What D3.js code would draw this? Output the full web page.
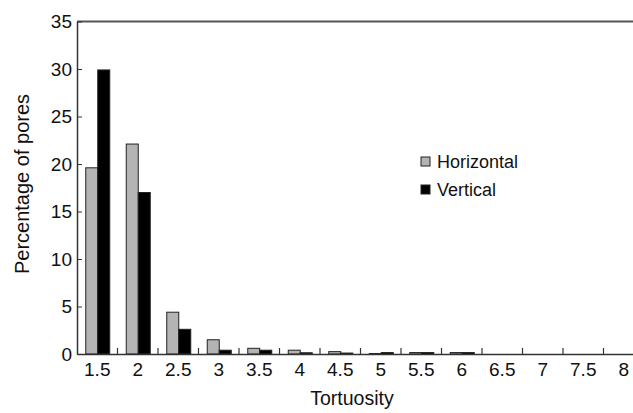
<!DOCTYPE html>
<html>
<head>
<meta charset="utf-8">
<script src="https://cdn.jsdelivr.net/npm/d3@7"></script>
<style>
  body { margin: 0; background: #fff; }
  svg { display: block; font-family: "Liberation Sans", Arial, sans-serif; }
</style>
</head>
<body>
<div id="chart"></div>
<script>
// tortuosity classes and percentages
var categories = ["1.5", "2", "2.5", "3", "3.5", "4", "4.5", "5", "5.5", "6", "6.5", "7", "7.5", "8"];
var horizontal = [19.6, 22.1, 4.4, 1.5, 0.6, 0.4, 0.25, 0.05, 0.15, 0.15, 0, 0, 0, 0];
var vertical   = [29.9, 17.0, 2.6, 0.4, 0.4, 0.13, 0.1, 0.15, 0.15, 0.15, 0, 0, 0, 0];
var yTicks = [0, 5, 10, 15, 20, 25, 30, 35];

var series = [
  {name: "Horizontal", values: horizontal, fill: "#b4b4b4"},
  {name: "Vertical", values: vertical, fill: "#000"}
];

var svg = d3.select("#chart").append("svg")
    .attr("width", 633)
    .attr("height", 413);

var margin = {top: 21.5, left: 77, bottom: 354};
var plotRight = 644; // last band runs past the picture edge

var x = d3.scaleBand().domain(categories).range([margin.left, plotRight]);
var y = d3.scaleLinear().domain([0, 35]).range([margin.bottom, margin.top]);

var barW = 12;

// bars
series.forEach(function(s, si) {
  svg.append("g").selectAll("rect")
      .data(s.values.map(function(v, i) { return {c: categories[i], v: v}; }).filter(function(d) { return d.v > 0; }))
      .enter().append("rect")
      .attr("x", function(d) { return x(d.c) + x.bandwidth() / 2 - barW + si * barW + 0.5; })
      .attr("y", function(d) { return y(d.v); })
      .attr("width", barW)
      .attr("height", function(d) { return y(0) - y(d.v); })
      .attr("fill", s.fill)
      .attr("stroke", "#222")
      .attr("stroke-width", 1);
});

// top frame line
svg.append("line")
    .attr("x1", margin.left).attr("x2", 633)
    .attr("y1", margin.top).attr("y2", margin.top)
    .attr("stroke", "#555").attr("stroke-width", 2);

// y axis
var yAxis = svg.append("g")
    .attr("transform", "translate(" + margin.left + ",0)")
    .call(d3.axisLeft(y).tickValues(yTicks).tickSize(0).tickPadding(5));
yAxis.select(".domain").attr("stroke", "#333").attr("stroke-width", 1.5);
yAxis.selectAll(".tick line").attr("x2", 5).attr("stroke", "#333");
yAxis.selectAll(".tick text")
    .attr("font-size", 19).attr("fill", "#111")
    .attr("font-family", "Liberation Sans, Arial, sans-serif");

// x axis: labels centred in bands, ticks on band boundaries
var xAxis = svg.append("g")
    .attr("transform", "translate(0," + margin.bottom + ")")
    .call(d3.axisBottom(x).tickSize(0).tickPadding(9).tickSizeOuter(0));
xAxis.select(".domain").attr("stroke", "#333").attr("stroke-width", 1.5);
xAxis.selectAll(".tick text")
    .attr("font-size", 19).attr("fill", "#111")
    .attr("font-family", "Liberation Sans, Arial, sans-serif");

svg.append("g").selectAll("line")
    .data(categories.slice(1))
    .enter().append("line")
    .attr("x1", function(d) { return x(d); })
    .attr("x2", function(d) { return x(d); })
    .attr("y1", margin.bottom)
    .attr("y2", margin.bottom - 6)
    .attr("stroke", "#333")
    .attr("stroke-width", 1.2);

// axis titles
svg.append("text")
    .attr("x", 352).attr("y", 405)
    .attr("text-anchor", "middle")
    .attr("font-size", 19.5).attr("fill", "#111")
    .text("Tortuosity");

svg.append("text")
    .attr("transform", "translate(29,184)rotate(-90)")
    .attr("text-anchor", "middle")
    .attr("font-size", 20).attr("fill", "#111")
    .text("Percentage of pores");

// legend
var legend = svg.append("g").attr("transform", "translate(421,157)");
series.forEach(function(s, i) {
  var row = legend.append("g").attr("transform", "translate(0," + (i * 28) + ")");
  row.append("rect")
      .attr("width", 9).attr("height", 9)
      .attr("fill", s.fill).attr("stroke", "#222").attr("stroke-width", 1);
  row.append("text")
      .attr("x", 16).attr("y", 11)
      .attr("font-size", 18).attr("fill", "#111")
      .text(s.name);
});
</script>
</body>
</html>
